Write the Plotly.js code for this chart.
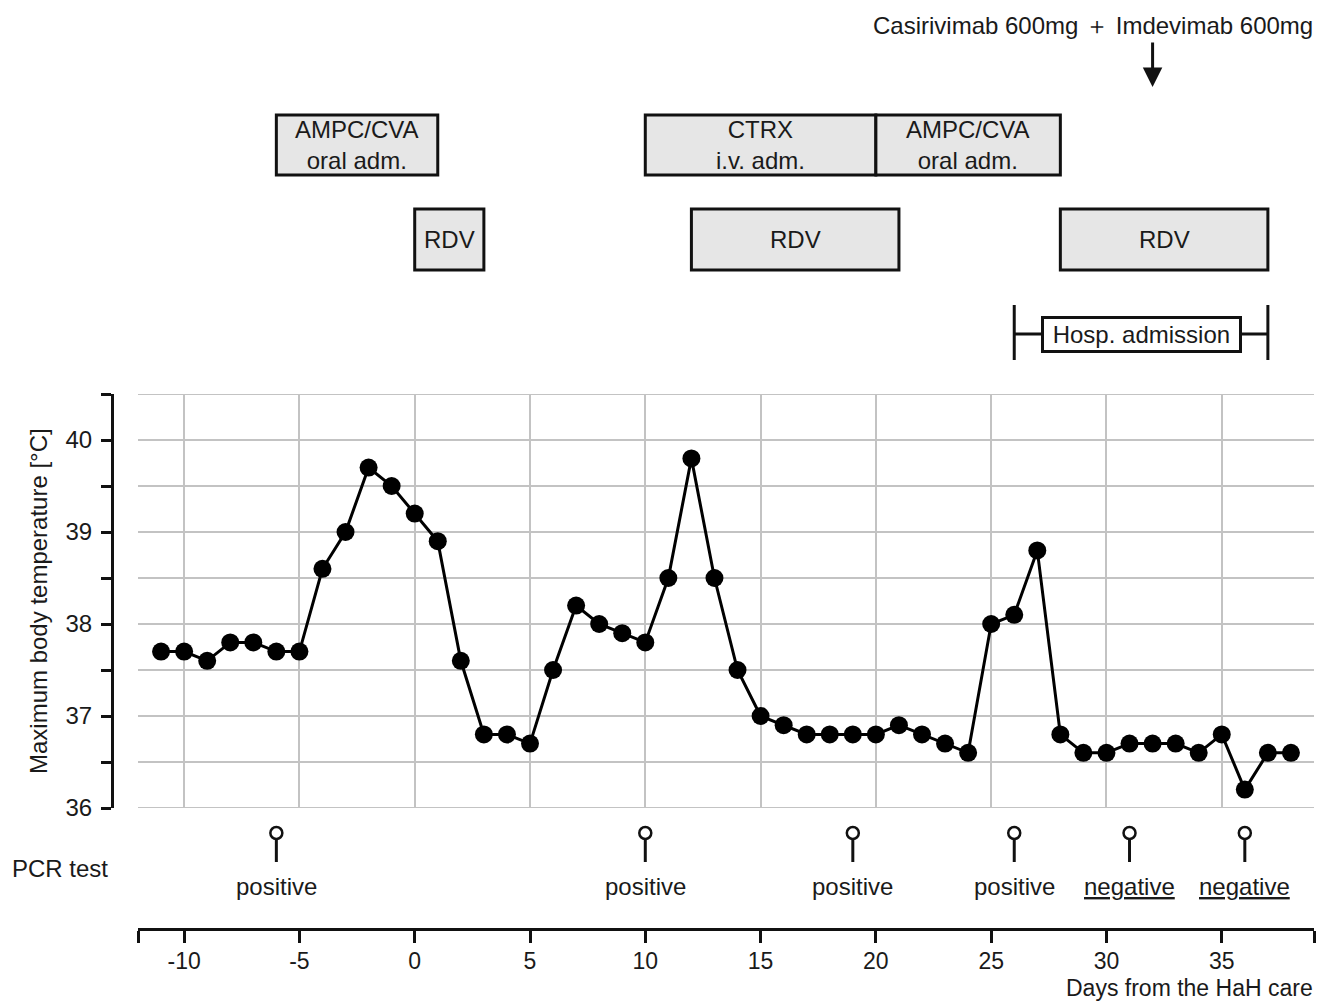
<!DOCTYPE html>
<html>
<head>
<meta charset="utf-8">
<script src="https://cdn.plot.ly/plotly-3.0.1.min.js"></script>
<style>html,body{margin:0;padding:0;background:#fff;}#chart{width:1317px;height:1001px;}</style>
</head>
<body>
<div id="chart"></div>
<script>
// ---- data ----
const days = [-11,-10,-9,-8,-7,-6,-5,-4,-3,-2,-1,0,1,2,3,4,5,6,7,8,9,10,11,12,13,14,15,16,17,18,19,20,21,22,23,24,25,26,27,28,29,30,31,32,33,34,35,36,37,38];
const maxTemp = [37.7,37.7,37.6,37.8,37.8,37.7,37.7,38.6,39.0,39.7,39.5,39.2,38.9,37.6,36.8,36.8,36.7,37.5,38.2,38.0,37.9,37.8,38.5,39.8,38.5,37.5,37.0,36.9,36.8,36.8,36.8,36.8,36.9,36.8,36.7,36.6,38.0,38.1,38.8,36.8,36.6,36.6,36.7,36.7,36.7,36.6,36.8,36.2,36.6,36.6];

const treatLabels = ['AMPC/CVA<br>oral adm.', 'CTRX<br>i.v. adm.', 'AMPC/CVA<br>oral adm.', 'RDV', 'RDV', 'RDV'];
const treatStart  = [-6, 10, 20, 0, 12, 28];
const treatEnd    = [1, 20, 28, 3, 21, 37];
const treatRow    = [1, 1, 1, 2, 2, 2];

const hospLabel = 'Hosp. admission';
const hospStart = 26;
const hospEnd = 37;

const antibodyLabel = 'Casirivimab 600mg ＋ Imdevimab 600mg';
const antibodyDay = 32;

const pcrDays    = [-6, 10, 19, 26, 31, 36];
const pcrResults = ['positive', 'positive', 'positive', 'positive', 'negative', 'negative'];

const xRange = [-12, 39];
const yRange = [36, 40.5];
const xTickVals = [-10, -5, 0, 5, 10, 15, 20, 25, 30, 35];
const yTickVals = [36, 37, 38, 39, 40];
const yMinorVals = [36.5, 37.5, 38.5, 39.5, 40.5];

// ---- layout helpers (pixel -> paper) ----
const W = 1317, H = 1001;
const py = p => 1 - p / H;
const px = p => p / W;
const FONT = 'Liberation Sans, Arial, sans-serif';
const TXT = '#1a1a1a';
const FS = 24;
const GRID = '#c3c3c3';

const rowBox = {1: [115, 175], 2: [209, 270]};

const shapes = [];
const annotations = [];

// grid lines at the two range ends (Plotly omits them at the edges)
yRange.forEach(v => {
  shapes.push({type: 'line', xref: 'x', yref: 'y', x0: xRange[0], x1: xRange[1], y0: v, y1: v,
    layer: 'below', line: {color: GRID, width: 2}});
});

treatLabels.forEach((lab, i) => {
  const [top, bot] = rowBox[treatRow[i]];
  shapes.push({type: 'rect', xref: 'x', yref: 'paper', x0: treatStart[i], x1: treatEnd[i],
    y0: py(bot), y1: py(top), fillcolor: '#e6e6e6', line: {color: '#111', width: 3}});
  annotations.push({xref: 'x', yref: 'paper', x: (treatStart[i] + treatEnd[i]) / 2, y: py((top + bot) / 2),
    text: lab, showarrow: false, xanchor: 'center', yanchor: 'middle',
    font: {family: FONT, size: FS, color: TXT}});
});

// hospital admission bracket
shapes.push({type: 'line', xref: 'x', yref: 'paper', x0: hospStart, x1: hospEnd, y0: py(334), y1: py(334), line: {color: '#111', width: 3}});
shapes.push({type: 'line', xref: 'x', yref: 'paper', x0: hospStart, x1: hospStart, y0: py(305), y1: py(360), line: {color: '#111', width: 3}});
shapes.push({type: 'line', xref: 'x', yref: 'paper', x0: hospEnd, x1: hospEnd, y0: py(305), y1: py(360), line: {color: '#111', width: 3}});
annotations.push({xref: 'x', yref: 'paper', x: (hospStart + hospEnd) / 2, y: py(334), text: '\u00a0' + hospLabel + '\u00a0',
  showarrow: false, xanchor: 'center', yanchor: 'middle', bgcolor: '#fff', bordercolor: '#111', borderwidth: 3, borderpad: 2,
  font: {family: FONT, size: FS, color: TXT}});

// antibody arrow + label
annotations.push({xref: 'x', yref: 'paper', x: antibodyDay, y: py(87), text: '', showarrow: true,
  ax: 0, ay: -46, arrowhead: 2, arrowsize: 1.3, arrowwidth: 3, arrowcolor: '#111', standoff: 0, startstandoff: 0});
annotations.push({xref: 'paper', yref: 'paper', x: px(1315), y: py(25), text: antibodyLabel, showarrow: false,
  xanchor: 'right', yanchor: 'middle', font: {family: FONT, size: FS, color: TXT}});

// PCR tests
pcrDays.forEach((d, i) => {
  shapes.push({type: 'line', xref: 'x', yref: 'paper', x0: d, x1: d, y0: py(839), y1: py(862), line: {color: '#111', width: 3}});
  shapes.push({type: 'circle', xref: 'x', yref: 'paper', xsizemode: 'pixel', ysizemode: 'pixel', xanchor: d, yanchor: py(833),
    x0: -6, x1: 6, y0: -6, y1: 6, fillcolor: '#fff', line: {color: '#111', width: 2.5}});
  const txt = pcrResults[i] === 'negative' ? '<u>' + pcrResults[i] + '</u>' : pcrResults[i];
  annotations.push({xref: 'x', yref: 'paper', x: d, y: py(886), text: txt, showarrow: false,
    xanchor: 'center', yanchor: 'middle', font: {family: FONT, size: FS, color: TXT}});
});
annotations.push({xref: 'paper', yref: 'paper', x: px(10), y: py(868), text: 'PCR test', showarrow: false,
  xanchor: 'left', yanchor: 'middle', font: {family: FONT, size: FS, color: TXT}});

// axis titles as annotations
annotations.push({xref: 'paper', yref: 'paper', x: px(1315), y: py(988), text: 'Days from the HaH care', showarrow: false,
  xanchor: 'right', yanchor: 'middle', font: {family: FONT, size: 23, color: TXT}});
annotations.push({xref: 'paper', yref: 'paper', x: px(38), y: py(601), text: 'Maximum body temperature [°C]', showarrow: false,
  textangle: -90, xanchor: 'center', yanchor: 'middle', font: {family: FONT, size: FS, color: TXT}});

const trace = {
  x: days, y: maxTemp, type: 'scatter', mode: 'lines+markers',
  line: {color: '#000', width: 3},
  marker: {color: '#000', size: 18, line: {width: 0}},
  hoverinfo: 'x+y', cliponaxis: false
};

const layout = {
  width: W, height: H,
  margin: {l: 0, r: 0, t: 0, b: 0, autoexpand: false},
  paper_bgcolor: '#fff', plot_bgcolor: '#fff',
  showlegend: false,
  font: {family: FONT, size: FS, color: TXT},
  xaxis: {
    domain: [px(138), px(1314)], range: xRange, anchor: 'free', position: py(929),
    tickmode: 'array', tickvals: xTickVals, ticktext: xTickVals.map(String),
    showgrid: true, gridcolor: GRID, gridwidth: 2, zeroline: false,
    showline: true, linecolor: '#111', linewidth: 3,
    ticks: 'outside', ticklen: 12, tickwidth: 3, tickcolor: '#111',
    minor: {tickmode: 'array', tickvals: xRange, ticks: 'outside', ticklen: 12, tickwidth: 3, tickcolor: '#111', showgrid: false},
    tickfont: {family: FONT, size: 23, color: TXT}, ticklabelstandoff: -2, automargin: false, fixedrange: true
  },
  yaxis: {
    domain: [py(808), py(394)], range: yRange, anchor: 'free', position: px(112),
    tickmode: 'array', tickvals: yTickVals, ticktext: yTickVals.map(String),
    showgrid: true, gridcolor: GRID, gridwidth: 2, zeroline: false,
    showline: true, linecolor: '#111', linewidth: 3,
    ticks: 'outside', ticklen: 10, tickwidth: 3, tickcolor: '#111',
    minor: {tickmode: 'array', tickvals: yMinorVals, ticks: 'outside', ticklen: 10, tickwidth: 3, tickcolor: '#111',
      showgrid: true, gridcolor: GRID, gridwidth: 2},
    tickfont: {family: FONT, size: FS, color: TXT}, ticklabelstandoff: 4, automargin: false, fixedrange: true
  },
  shapes: shapes,
  annotations: annotations
};

Plotly.newPlot('chart', [trace], layout, {displayModeBar: false, staticPlot: true});
</script>
</body>
</html>
